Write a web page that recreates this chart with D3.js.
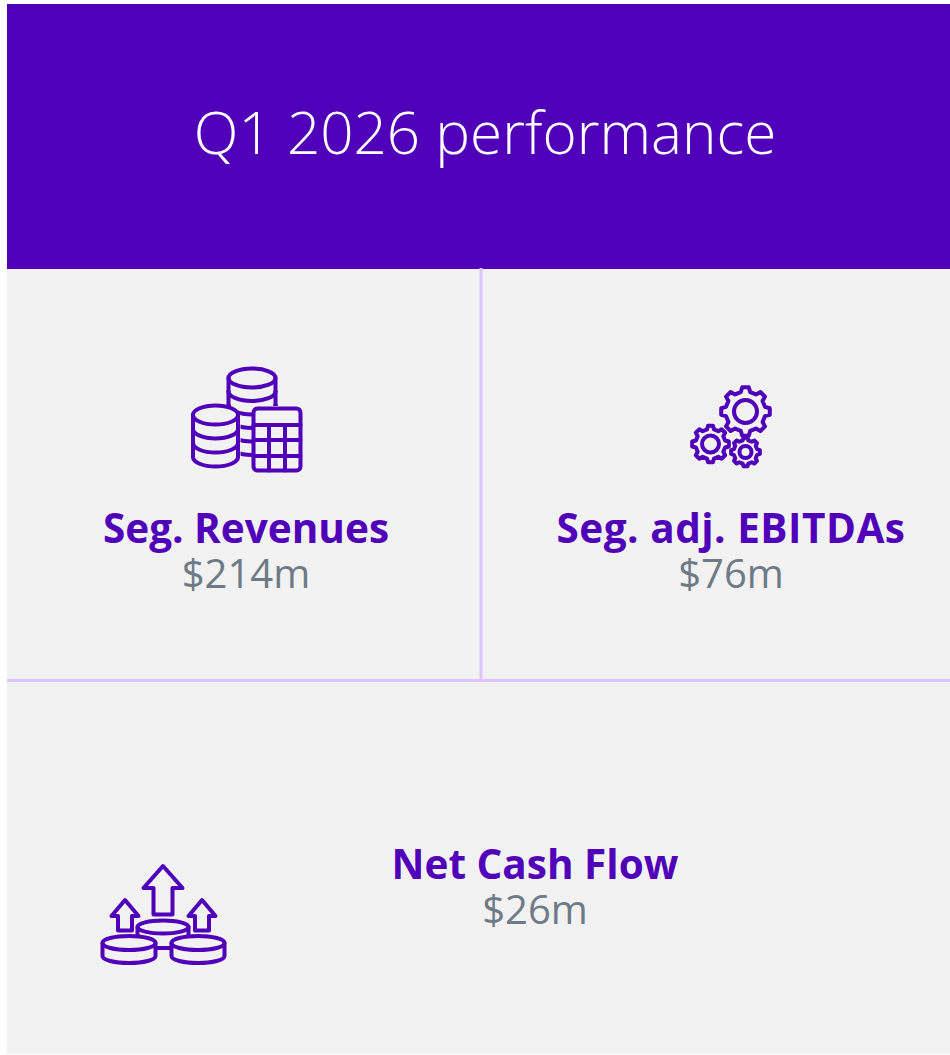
<!DOCTYPE html>
<html>
<head>
<meta charset="utf-8">
<script src="https://cdn.jsdelivr.net/npm/d3@7"></script>
<style>
  html, body { margin: 0; padding: 0; background: #fff; }
  svg { display: block; }
  text { font-family: "Open Sans", "Noto Sans", sans-serif; text-anchor: middle; }
</style>
</head>
<body>
<div id="chart"></div>
<script>
var title = 'Q1 2026 performance'
var labels = ['Seg. Revenues', 'Seg. adj. EBITDAs', 'Net Cash Flow']
var values = [214, 76, 26]
var valueFormat = d => '$' + d + 'm'

var purple = '#5000b8',
  panel = '#f2f2f2',
  divider = '#dcc4ff',
  grey = '#6e7b87'

var svg = d3.select('#chart').append('svg').attr('width', 950).attr('height', 1055)

// background blocks
svg.append('rect').attr('x', 7).attr('y', 4).attr('width', 943).attr('height', 265).attr('fill', purple)
svg.append('rect').attr('x', 7).attr('y', 269).attr('width', 943).attr('height', 785).attr('fill', panel)
svg.append('rect').attr('x', 479.5).attr('y', 268).attr('width', 3).attr('height', 412).attr('fill', divider)
svg.append('rect').attr('x', 7).attr('y', 679).attr('width', 943).attr('height', 3).attr('fill', divider)

svg.append('text')
  .attr('x', 485)
  .attr('y', 154)
  .attr('font-size', 58.4)
  .attr('font-weight', 300)
  .attr('fill', '#fff')
  .text(title)

var textPos = [
  { x: 246, y: 542.5, spacing: 0 },
  { x: 731, y: 542.5, spacing: 0.5 },
  { x: 535, y: 878.5, spacing: 0 }
]

labels.forEach((d, i) => {
  svg.append('text')
    .attr('x', textPos[i].x)
    .attr('y', textPos[i].y)
    .attr('font-size', 40.5)
    .attr('font-weight', 700)
    .attr('letter-spacing', textPos[i].spacing)
    .attr('fill', purple)
    .text(d)
  svg.append('text')
    .attr('x', textPos[i].x)
    .attr('y', textPos[i].y + 45.5)
    .attr('font-size', 40)
    .attr('fill', grey)
    .text(valueFormat(values[i]))
})

// icons
var icon = svg.append('g')
  .attr('fill', 'none')
  .attr('stroke', purple)
  .attr('stroke-width', 4)
  .attr('stroke-linejoin', 'round')
  .attr('stroke-linecap', 'round')

var arc = (cx, y, rx, ry) => `M${cx - rx},${y}A${rx},${ry} 0 0 0 ${cx + rx},${y}`

var coins = (parent, cx, top, rx, ry, step, n) => {
  parent.append('ellipse').attr('cx', cx).attr('cy', top).attr('rx', rx).attr('ry', ry)
  d3.range(1, n + 1).forEach(k => {
    parent.append('path').attr('d', arc(cx, top + k * step, rx, ry))
    parent.append('path').attr('d', `M${cx - rx},${top + (k - 1) * step}V${top + k * step}M${cx + rx},${top + (k - 1) * step}V${top + k * step}`)
  })
}

// back stack is partly hidden by the calculator and the front stack
svg.append('clipPath').attr('id', 'backClip')
  .append('path').attr('d', 'M220,360H285V406H253V470H240.5V415L228,407H220Z')
coins(icon.append('g').attr('clip-path', 'url(#backClip)'), 252, 378, 23.5, 9.5, 13.5, 5)

coins(icon, 215.5, 415, 22.5, 9.5, 14, 3)
icon.append('rect').attr('x', 253.5).attr('y', 408.5).attr('width', 47).attr('height', 62).attr('rx', 4)
icon.append('path').attr('d', 'M253.5,425H300.5M253.5,440H300.5M253.5,456H300.5M269,425V470.5M285,425V470.5')

// gears
var gear = (cx, cy, outer, inner, ring, teeth) => {
  var pts = []
  var step = 2 * Math.PI / teeth
  d3.range(teeth).forEach(k => {
    var a = k * step
    pts.push([a - step * 0.30, inner], [a - step * 0.17, outer], [a + step * 0.17, outer], [a + step * 0.30, inner])
  })
  icon.append('path')
    .attr('transform', `translate(${cx},${cy})`)
    .attr('d', d3.lineRadial().angle(d => d[0]).radius(d => d[1]).curve(d3.curveLinearClosed)(pts))
  icon.append('circle').attr('cx', cx).attr('cy', cy).attr('r', ring)
}
gear(745.5, 411.5, 24.5, 20, 11.5, 8)
gear(710.5, 444, 18.5, 15, 8.5, 8)
gear(745.5, 452, 14.5, 12, 6, 8)

// arrows and discs
var arrow = (cx, tip, base, halfHead, halfShaft, bottom) => {
  icon.append('path').attr('d',
    `M${cx},${tip}L${cx + halfHead},${base}H${cx + halfShaft}V${bottom}H${cx - halfShaft}V${base}H${cx - halfHead}Z`)
}
arrow(163, 866, 888, 19.5, 9.5, 914.5)
arrow(125, 900, 916, 13.5, 7, 930.5)
arrow(202, 900, 916, 13.5, 7, 930.5)

var disc = (cx, cy, rx, ry, h) => {
  icon.append('ellipse').attr('cx', cx).attr('cy', cy).attr('rx', rx).attr('ry', ry)
  icon.append('path').attr('d', `M${cx - rx},${cy}V${cy + h}A${rx},${ry} 0 0 0 ${cx + rx},${cy + h}V${cy}`)
}
disc(163, 927, 25.5, 6.5, 8)
icon.append('rect').attr('x', 103).attr('y', 936).attr('width', 122).attr('height', 28).attr('stroke', 'none').attr('fill', panel)
disc(129, 943, 26.5, 7, 13)
disc(198, 943, 26.5, 7, 13)
icon.append('path').attr('d', 'M156,948H171')
</script>
</body>
</html>
